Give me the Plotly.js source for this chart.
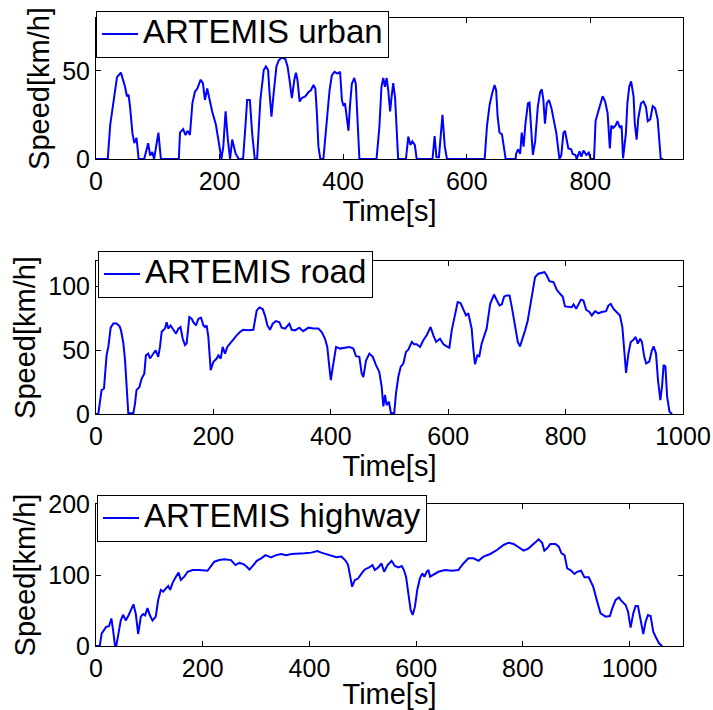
<!DOCTYPE html>
<html>
<head>
<meta charset="utf-8">
<script src="https://cdn.plot.ly/plotly-3.0.1.min.js"></script>
<style>html,body{margin:0;padding:0;background:#fff;}#chart{width:713px;height:710px;}</style>
</head>
<body>
<div id="chart"></div>
<script>
// ---- ARTEMIS urban ----
const urbanTime = [0,19,23,29.6,34,40.3,44,47,50,52.7,55,59,62,65.6,69,78,84.4,87.6,91,94,101,105,134,136,141,145,148,152,156,160,164,169.4,173,176.3,180,184,188,194,199,203,206,209.7,213.4,217,220.4,223,226,231,238,242,244.6,249,252.7,257,260.7,266,271.5,275,278.5,280.6,284,287.6,292,295.7,301,306.5,310,313.5,317,321,323.6,326,329.6,333,338.7,344,347.8,352,355,357.5,360,363,368,373.6,378,381.7,386,391,395,398,400.5,403,406,408.6,411,414,418,420.5,423,426.3,454,458.6,462,465,467.7,470.4,473,476,478.5,481,484,486.6,489,501.6,505.4,509,512,516,519,544.6,548,551,555,560.7,564.5,568,629,632.7,637,641,645,647.6,650,653,657,660,663,679,680,683,686.5,689,692,695,699,701.6,704.3,707,710.7,715,718.8,721.5,724,726.6,729.6,733,737,739.6,742,745,747.6,750,753,756.4,759,761.7,764.4,769,771.5,776,778,782.6,785.5,789,793.5,797.5,800.5,806,808.5,812,816,820,824,828,831.6,834,837,841,844,848,850.6,853,857.6,860,863,866,870,872,875,877.6,882,886,890,893,897,901,905,909,914,918];
const urbanSpeed = [0,0,19.3,36,46.4,49,45,41,35.6,36.5,30,14.5,9,12,0,0,9,2,4,0,15,0,0,15,17,13.6,16,13.6,31.6,38,40,45,43,33.5,40,33.5,27,19.6,7.3,0,7,27,11,0,11,7,3,0,0,19.6,33.5,33.5,14.7,0,0,33.5,50.5,52.5,50.5,39,24,37.6,52.5,56,57.6,56.6,52.5,44,34.6,45,49,45,32.6,34.6,35.5,38,39,42,40,26,7,0,0,22,39,47.5,49.5,48.5,49.5,33.5,30,31.6,22.5,16,30,42.6,46,42.6,24,0,0,18,41,46,41,46,39,27,35.6,43,35,16,0,0,12.7,8,10,8,0,0,13,1,1,25,7,0,0,18.5,30.7,37,42,39,24,15,14,7,0,0,3,5.5,3,15,7,20,31.6,32,18.4,2.3,10,29.6,38,39.5,33.5,20,31.6,33.5,29,24,18.5,14.7,7,0,2,14.7,16,10.8,6,5.5,2.8,2.3,0,4.4,1.3,4.8,2.3,3.6,0,0,21.5,26,31,35.6,32.6,26,6,19,17.6,19,21.5,17.6,19,0.4,14.7,31.6,41,44,35.6,20,11,23,31.6,32.6,29.6,21.5,22.5,30,28.8,22.5,0,0];

// ---- ARTEMIS road ----
const roadTime = [0,3.9,9.5,13.6,18,21,25,29.5,35,40,42.6,46.6,49.5,52,55,63.6,66.4,69,73.8,77.8,82.3,85,89,92,97.7,101.6,106,109,111.9,117.5,120.4,123,127,131.8,136.3,140.3,144,147.6,151.6,154.4,159,163,165.8,170.4,174.4,179,183,185.7,188.5,191.4,195.4,200,205.6,208.5,212.5,215.8,219.8,223.7,228.3,234,239.6,245.3,250.5,259,268,273.7,278.3,284,288,292,296.4,301,306.6,312.4,316.3,322,329.4,333.4,339,346.4,353,361.8,370.3,378.8,384.5,390,394,397.5,400,403,409,415.6,424.2,431.5,438.4,443,448.6,452.6,455.5,460,465.7,471.5,477,482.6,486.6,489.5,492.4,495,499,502.5,508,511,515,519,523.6,528,532,538,542,546.3,552,557.6,563.3,570,574.7,579.4,586,592,597.4,602,606,611.6,616.2,621,625.8,630.3,634.3,640,643,645.7,649.7,653,657,661,665.5,671.5,678,683,687.4,691.4,695.4,700,704.5,708.4,712.3,716,718.6,722.3,727,731,735.5,739.4,744,748,753.5,759.4,764,768,772.4,779.4,785,790.5,795,799,805,810.5,813.5,818,822,826,830.4,835,840.6,844.6,850.3,856,861.6,869,873,877,881.3,887,892.6,896.7,899.5,903,907,911,915.6,919.4,923,927,930,934,937.4,942.5,947,950,954,957.4,961.4,964.3,967,970,973,977,981.5];
const roadSpeed = [0,0,18.75,20,46,52.6,67.7,71,71,69,65.6,55.5,42,21.6,0.5,0.5,8,18.75,21,27.8,31.6,46,47.4,43.5,47.4,50,44.8,52.6,64.5,67,72,67,69.5,65.6,63,67,68.2,59.2,54,55.5,76,74.7,72,69.5,74.7,75.5,69.5,68.2,69.5,60.4,34.4,41,43.5,46,43.5,52.6,47.4,52.6,55.3,57.8,61.7,64.3,66,65.6,66,81,83.6,82.3,77,69.5,66,70.8,72.9,72,67.7,67,70.8,66,65.6,67.7,65,67.7,67,67,64.3,59.2,52.6,37,26.6,35.7,52.6,51.3,52,52.6,51.3,45.3,44.8,31.8,29,42,47.4,44.8,38.3,33,21.6,6,15,7,9.6,0.5,0.5,16,29,37,39.6,48.7,50.5,56.5,54.7,54.7,52.6,57.8,61.7,68.2,61.7,56.5,59,54.7,53,52,65.6,77.3,87.8,87,82.6,77.3,79,67,50,39,46,45.3,55.2,60.4,67,86.4,93.7,89,85.2,86,92.2,93,93,83.8,73.4,60.4,56.5,53,59,65.6,73.4,83.8,96.9,107.3,110,110.4,111.2,108.6,104.2,103.4,97.4,94.3,92.2,84.4,83.8,83.8,86,82.6,86,89.6,89,81.8,80,77.3,80.7,79,80,80.7,85.2,86.4,82.6,80,77.3,68.2,50,32.3,47.4,56.5,58.3,60.4,55.2,59,56.5,44.8,39.6,41,50,53,47.4,26.6,10.9,21.6,38.5,37.2,13.5,1.8,0];

// ---- ARTEMIS highway ----
const highwayTime = [0,7,10.7,15,19.4,24.4,28.8,32,35.7,38.2,42,46.4,50.7,55.7,60.8,65,70.2,74.6,79,84,88.3,92,96.5,100.9,105.9,112,116.5,121.5,126,131,135.3,139,143.5,149.8,154.7,159,165.4,171.7,181,193.6,209,215.5,221.8,231,240.6,253,261.3,268.8,276.3,281,287.6,295,301.3,309.5,317.5,328,337.7,347,356.5,366,378.4,391,403.5,414.8,422.3,431.7,441,450.5,460,468,472.4,475.5,480,485,491,497.5,503.7,512,518,522.5,528.8,535,540,546.4,553.9,560,566.4,573,577,581,585,589.6,593.4,597.7,602,607,611.5,615.3,619.7,623,626,632,641.6,654,666.6,679,688.5,698,707.4,716.8,726,738.8,751.3,763.8,773.2,782.6,792,801.4,810.8,820.3,829.6,836,840.2,845.3,851.5,861,867.2,872.3,878,883,889,896.7,901.6,909,915.4,923.4,931.7,939.3,945.5,955,963,967.4,973.7,980,984.3,992.5,997,1001.8,1006.8,1011.2,1015.6,1020.6,1025.6,1030,1034.3,1039.3,1044.3,1048.7,1055,1061];
const highwaySpeed = [0,0,17.8,22.5,27.2,28,38.8,22.5,0,0.9,19.7,36,44,36,43,50.7,58.7,45,16.9,41.3,45,43.2,53.5,43.2,36,41.3,64.8,79,76.5,81.2,84.5,79,89,97.6,103.3,93,97.6,104.5,107,107,106,112.6,118.7,121,122,121,114,117,115.3,112.6,107.8,114,120,123.5,128,124.9,128,129.6,128,129.6,129.6,130.5,131.5,133.8,131.5,129.6,127,125,126,120,114,102.3,83.5,93,95,102,107.8,110.6,114,107,110.6,116.2,104.5,114,120,112.6,110.7,112.6,107,97.6,74.2,50.7,43.7,55.4,79,95.3,102.3,97.6,104.5,107,97.6,100,104.5,107,106,107,116.2,123.5,123.5,120,125.8,129.6,135.2,142.3,145.5,143.7,139,134.3,137.6,144.6,150.3,145.5,134.3,137.6,143.7,143.7,140,130.6,128,109.4,107,101.4,104.5,106,96.7,96.7,83.6,62.4,46,41.3,42.2,53,64.8,68.5,63.8,57.7,48.4,25.8,46,56.3,56.3,36.6,16.9,34.3,43.7,42.2,20,13,3.8,0];

const urbanXTicks = [0,200,400,600,800];
const roadXTicks = [0,200,400,600,800,1000];
const highwayXTicks = [0,200,400,600,800,1000];
const urbanYTicks = [0,50];
const roadYTicks = [0,50,100];
const highwayYTicks = [0,100,200];
const seriesNames = ['ARTEMIS urban','ARTEMIS road','ARTEMIS highway'];

const W = 713, H = 710;
const FONT = 'Liberation Sans, Arial, Helvetica, sans-serif';
const lineStyle = {color: '#0000ff', width: 2};
// legend entries: large text in a compact box
const legendLabel = s => '<span style="font-size:33px">' + s + '</span>';

const traces = [
  {x: urbanTime, y: urbanSpeed, type: 'scatter', mode: 'lines', name: legendLabel(seriesNames[0]), line: lineStyle, xaxis: 'x', yaxis: 'y', legend: 'legend'},
  {x: roadTime, y: roadSpeed, type: 'scatter', mode: 'lines', name: legendLabel(seriesNames[1]), line: lineStyle, xaxis: 'x2', yaxis: 'y2', legend: 'legend2'},
  {x: highwayTime, y: highwaySpeed, type: 'scatter', mode: 'lines', name: legendLabel(seriesNames[2]), line: lineStyle, xaxis: 'x3', yaxis: 'y3', legend: 'legend3'}
];

function xax(range, ticks, anchor) {
  return {
    domain: [96 / W, 683 / W], anchor: anchor, range: range,
    tickmode: 'array', tickvals: ticks, ticktext: ticks.map(String),
    ticks: 'inside', ticklen: 5, tickcolor: '#000', mirror: 'ticks',
    showline: true, linecolor: '#000', linewidth: 1,
    showgrid: false, zeroline: false, automargin: false,
    tickfont: {family: FONT, size: 25, color: '#000'},
    title: {text: 'Time[s]', font: {family: FONT, size: 29, color: '#000'}, standoff: 0}
  };
}
function yax(range, ticks, top, bottom, anchor) {
  return {
    domain: [1 - bottom / H, 1 - top / H], anchor: anchor, range: range,
    tickmode: 'array', tickvals: ticks, ticktext: ticks.map(String),
    ticks: 'inside', ticklen: 5, tickcolor: '#000', mirror: 'ticks',
    showline: true, linecolor: '#000', linewidth: 1,
    showgrid: false, zeroline: false, automargin: false,
    tickfont: {family: FONT, size: 25, color: '#000'},
    title: {text: 'Speed[km/h]', font: {family: FONT, size: 29, color: '#000'}, standoff: 4}
  };
}
function leg(leftPx, topPx) {
  return {
    x: leftPx / W, y: 1 - topPx / H, xanchor: 'left', yanchor: 'top',
    bgcolor: '#fff', bordercolor: '#000', borderwidth: 1,
    font: {family: FONT, size: 24, color: '#000'}, itemwidth: 36
  };
}

const layout = {
  width: W, height: H,
  margin: {l: 0, r: 0, t: 0, b: 0, pad: 0},
  paper_bgcolor: '#fff', plot_bgcolor: '#fff',
  showlegend: true,
  font: {family: FONT, color: '#000'},
  xaxis: xax([0, 950], urbanXTicks, 'y'),
  yaxis: yax([0, 80], urbanYTicks, 18, 159, 'x'),
  xaxis2: xax([0, 1000], roadXTicks, 'y2'),
  yaxis2: yax([0, 120], roadYTicks, 261, 414, 'x2'),
  xaxis3: xax([0, 1100], highwayXTicks, 'y3'),
  yaxis3: yax([0, 200], highwayYTicks, 504, 646, 'x3'),
  legend: leg(96, 11),
  legend2: leg(98, 251),
  legend3: leg(97, 495)
};

Plotly.newPlot('chart', traces, layout, {staticPlot: true, displayModeBar: false});
</script>
</body>
</html>
